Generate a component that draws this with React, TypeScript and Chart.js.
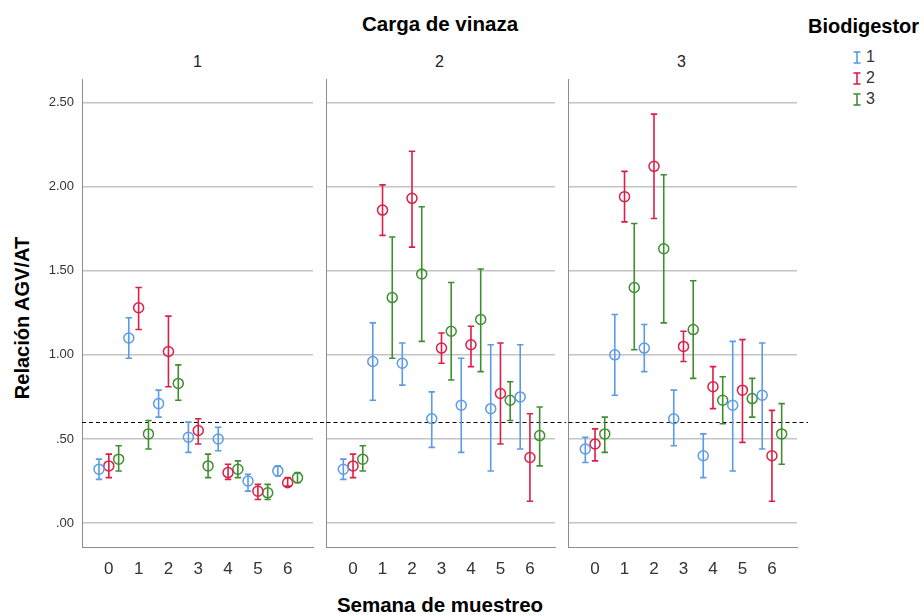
import React, { useEffect, useRef } from 'react';
import { Chart, registerables } from 'chart.js';

Chart.register(...registerables);

// ---------- data ----------
const weeks = [0, 1, 2, 3, 4, 5, 6];
const cargaLabels = ['1', '2', '3'];
const biodigestorLabels = ['1', '2', '3'];
const seriesColors = ['#5b9be8', '#dc1f47', '#3f8f30'];
const dodge = [-0.33, 0, 0.33];
const thresholdValue = 0.6;
const yTickValues = [0, 0.5, 1, 1.5, 2, 2.5];

// Carga 1
const c1b1Mean = [0.32, 1.10, 0.71, 0.51, 0.50, 0.25, 0.31];
const c1b1Low = [0.26, 0.98, 0.63, 0.42, 0.43, 0.19, 0.28];
const c1b1High = [0.38, 1.22, 0.79, 0.60, 0.57, 0.29, 0.34];
const c1b2Mean = [0.34, 1.28, 1.02, 0.55, 0.30, 0.19, 0.24];
const c1b2Low = [0.27, 1.15, 0.81, 0.47, 0.26, 0.14, 0.22];
const c1b2High = [0.41, 1.40, 1.23, 0.62, 0.35, 0.23, 0.27];
const c1b3Mean = [0.38, 0.53, 0.83, 0.34, 0.32, 0.18, 0.27];
const c1b3Low = [0.31, 0.44, 0.73, 0.27, 0.27, 0.14, 0.24];
const c1b3High = [0.46, 0.61, 0.94, 0.41, 0.37, 0.23, 0.30];

// Carga 2
const c2b1Mean = [0.32, 0.96, 0.95, 0.62, 0.70, 0.68, 0.75];
const c2b1Low = [0.26, 0.73, 0.82, 0.45, 0.42, 0.31, 0.44];
const c2b1High = [0.38, 1.19, 1.07, 0.78, 0.98, 1.06, 1.06];
const c2b2Mean = [0.34, 1.86, 1.93, 1.04, 1.06, 0.77, 0.39];
const c2b2Low = [0.27, 1.71, 1.64, 0.95, 0.93, 0.47, 0.13];
const c2b2High = [0.41, 2.01, 2.21, 1.13, 1.17, 1.07, 0.65];
const c2b3Mean = [0.38, 1.34, 1.48, 1.14, 1.21, 0.73, 0.52];
const c2b3Low = [0.31, 0.98, 1.08, 0.85, 0.90, 0.61, 0.34];
const c2b3High = [0.46, 1.70, 1.88, 1.43, 1.51, 0.84, 0.69];

// Carga 3
const c3b1Mean = [0.44, 1.00, 1.04, 0.62, 0.40, 0.70, 0.76];
const c3b1Low = [0.36, 0.76, 0.90, 0.46, 0.27, 0.31, 0.44];
const c3b1High = [0.51, 1.24, 1.18, 0.79, 0.53, 1.08, 1.07];
const c3b2Mean = [0.47, 1.94, 2.12, 1.05, 0.81, 0.79, 0.40];
const c3b2Low = [0.37, 1.79, 1.81, 0.96, 0.68, 0.48, 0.13];
const c3b2High = [0.56, 2.09, 2.43, 1.14, 0.93, 1.09, 0.67];
const c3b3Mean = [0.53, 1.40, 1.63, 1.15, 0.73, 0.74, 0.53];
const c3b3Low = [0.42, 1.03, 1.19, 0.86, 0.59, 0.63, 0.35];
const c3b3High = [0.63, 1.78, 2.07, 1.44, 0.87, 0.86, 0.71];

const panelSeries = [
  [
    { mean: c1b1Mean, low: c1b1Low, high: c1b1High },
    { mean: c1b2Mean, low: c1b2Low, high: c1b2High },
    { mean: c1b3Mean, low: c1b3Low, high: c1b3High },
  ],
  [
    { mean: c2b1Mean, low: c2b1Low, high: c2b1High },
    { mean: c2b2Mean, low: c2b2Low, high: c2b2High },
    { mean: c2b3Mean, low: c2b3Low, high: c2b3High },
  ],
  [
    { mean: c3b1Mean, low: c3b1Low, high: c3b1High },
    { mean: c3b2Mean, low: c3b2Low, high: c3b2High },
    { mean: c3b3Mean, low: c3b3Low, high: c3b3High },
  ],
];

// ---------- layout ----------
const FONT = 'Arial, "Liberation Sans", Helvetica, sans-serif';
const panelLefts = [82, 324, 566];
const panelWidth = 231;
const plotTop = 78;
const plotBottom = 547;
const rightExtra = 11;
const topPad = 5;
const xAxisHeight = 46;

const errorBarPlugin = {
  id: 'errorBars',
  beforeDatasetsDraw(chart: any) {
    const ctx = chart.ctx;
    const yScale = chart.scales.y;
    const ty = Math.round(yScale.getPixelForValue(thresholdValue)) + 0.5;
    ctx.save();
    ctx.strokeStyle = '#000';
    ctx.lineWidth = 1;
    ctx.setLineDash([4, 3]);
    ctx.beginPath();
    ctx.moveTo(chart.chartArea.left, ty);
    ctx.lineTo(chart.width, ty);
    ctx.stroke();
    ctx.setLineDash([]);
    chart.data.datasets.forEach((ds: any, i: number) => {
      const meta = chart.getDatasetMeta(i);
      ctx.strokeStyle = ds.borderColor;
      ctx.lineWidth = 1.6;
      meta.data.forEach((pt: any, j: number) => {
        const x = pt.x;
        const yl = yScale.getPixelForValue(ds.errLow[j]);
        const yh = yScale.getPixelForValue(ds.errHigh[j]);
        ctx.beginPath();
        ctx.moveTo(x, yl);
        ctx.lineTo(x, yh);
        ctx.moveTo(x - 3.2, yl);
        ctx.lineTo(x + 3.2, yl);
        ctx.moveTo(x - 3.2, yh);
        ctx.lineTo(x + 3.2, yh);
        ctx.stroke();
      });
    });
    ctx.restore();
  },
};

const zeroPadding = (s: any) => {
  s.paddingTop = 0;
  s.paddingBottom = 0;
  s.paddingLeft = 0;
  s.paddingRight = 0;
};

function Panel({ index }: { index: number }) {
  const ref = useRef<HTMLCanvasElement | null>(null);
  const yAxisWidth = index === 0 ? 82 : 4;
  const canvasLeft = panelLefts[index] - yAxisWidth;
  const canvasWidth = yAxisWidth + panelWidth + rightExtra;
  const canvasTop = plotTop - topPad;
  const canvasHeight = plotBottom - canvasTop + xAxisHeight;

  useEffect(() => {
    if (!ref.current) return;
    const series = panelSeries[index];
    const chart = new Chart(ref.current, {
      type: 'scatter',
      data: {
        datasets: series.map((s, i) => ({
          label: biodigestorLabels[i],
          data: weeks.map((w, j) => ({ x: w + dodge[i], y: s.mean[j] })),
          errLow: s.low,
          errHigh: s.high,
          borderColor: seriesColors[i],
          backgroundColor: 'rgba(0,0,0,0)',
          pointRadius: 5,
          pointHoverRadius: 5,
          pointBorderWidth: 1.5,
          showLine: false,
          clip: false,
        })) as any,
      },
      options: {
        animation: false,
        responsive: false,
        maintainAspectRatio: false,
        layout: { padding: { top: topPad, right: rightExtra, left: 0, bottom: 0 } },
        plugins: { legend: { display: false }, tooltip: { enabled: false } },
        scales: {
          x: {
            type: 'linear',
            min: -0.9,
            max: 6.85,
            afterFit: (s: any) => {
              s.height = xAxisHeight;
              zeroPadding(s);
            },
            grid: { display: false, drawTicks: false },
            border: { display: true, color: '#8c8c8c', width: 1 },
            ticks: {
              stepSize: 1,
              includeBounds: false,
              autoSkip: false,
              maxRotation: 0,
              padding: 12,
              color: '#333',
              font: { family: FONT, size: 17 },
              callback: (v: any) => (weeks.includes(v) ? String(v) : ''),
            },
          },
          y: {
            type: 'linear',
            min: -0.142,
            max: 2.636,
            afterFit: (s: any) => {
              s.width = yAxisWidth;
              zeroPadding(s);
            },
            afterBuildTicks: (s: any) => {
              s.ticks = yTickValues.map((v) => ({ value: v }));
            },
            grid: { display: true, color: '#c4c4c4', lineWidth: 1.5, drawTicks: false },
            border: { display: true, color: '#8c8c8c', width: 1 },
            ticks: {
              display: index === 0,
              padding: 8,
              color: '#333',
              font: { family: FONT, size: 13 },
              callback: (v: any) => Number(v).toFixed(2).replace(/^0/, ''),
            },
          },
        },
      } as any,
      plugins: [errorBarPlugin],
    });
    return () => chart.destroy();
  }, [index]);

  return (
    <canvas
      ref={ref}
      width={canvasWidth}
      height={canvasHeight}
      style={{ position: 'absolute', left: canvasLeft, top: canvasTop, width: canvasWidth, height: canvasHeight }}
    />
  );
}

const txt = (extra: React.CSSProperties): React.CSSProperties => ({
  position: 'absolute',
  fontFamily: FONT,
  color: '#000',
  whiteSpace: 'nowrap',
  lineHeight: 1,
  ...extra,
});

function LegendGlyph({ color }: { color: string }) {
  return (
    <svg width={8} height={13} style={{ display: 'block' }}>
      <line x1={4} y1={1} x2={4} y2={12} stroke={color} strokeWidth={1.6} />
      <line x1={0.5} y1={1} x2={7.5} y2={1} stroke={color} strokeWidth={1.6} />
      <line x1={0.5} y1={12} x2={7.5} y2={12} stroke={color} strokeWidth={1.6} />
    </svg>
  );
}

export default function App() {
  const legendRows = [57, 78, 99];
  return (
    <div style={{ position: 'absolute', left: 0, top: 0, width: 924, height: 615, background: '#fff', overflow: 'hidden' }}>
      <div style={txt({ left: 440, top: 24, transform: 'translate(-50%,-50%)', fontSize: 20.5, fontWeight: 'bold' })}>
        Carga de vinaza
      </div>
      {cargaLabels.map((c, i) => (
        <div
          key={c}
          style={txt({ left: panelLefts[i] + panelWidth / 2, top: 62, transform: 'translate(-50%,-50%)', fontSize: 16, color: '#222' })}
        >
          {c}
        </div>
      ))}
      <div
        style={txt({ left: 22, top: 318, transform: 'translate(-50%,-50%) rotate(-90deg)', fontSize: 20, fontWeight: 'bold' })}
      >
        Relación AGV/AT
      </div>
      <div style={txt({ left: 440, top: 605, transform: 'translate(-50%,-50%)', fontSize: 20.5, fontWeight: 'bold' })}>
        Semana de muestreo
      </div>
      <div style={txt({ left: 808, top: 26, transform: 'translate(0,-50%)', fontSize: 20, fontWeight: 'bold' })}>
        Biodigestor
      </div>
      {biodigestorLabels.map((b, i) => (
        <React.Fragment key={b}>
          <div style={{ position: 'absolute', left: 853, top: legendRows[i] - 6.5 }}>
            <LegendGlyph color={seriesColors[i]} />
          </div>
          <div style={txt({ left: 866, top: legendRows[i], transform: 'translate(0,-50%)', fontSize: 16, color: '#333' })}>
            {b}
          </div>
        </React.Fragment>
      ))}
      {[0, 1, 2].map((i) => (
        <Panel key={i} index={i} />
      ))}
    </div>
  );
}
